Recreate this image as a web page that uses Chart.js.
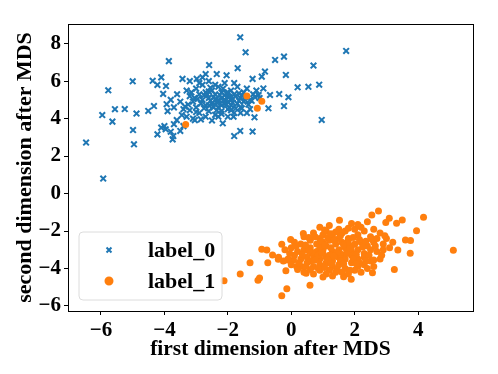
<!DOCTYPE html>
<html>
<head>
<meta charset="utf-8">
<script src="https://cdn.jsdelivr.net/npm/chart.js@4.4.1/dist/chart.umd.min.js"></script>
<style>
  html, body { margin: 0; padding: 0; background: #fff; }
  #wrap { width: 498px; height: 374px; }
</style>
</head>
<body>
<div id="wrap"><canvas id="mds"></canvas></div>
<script>
const seriesNames = ["label_0", "label_1"];
const seriesColors = ["#1f77b4", "#ff7f0e"];
const xTicks = [-6, -4, -2, 0, 2, 4];
const yTicks = [-6, -4, -2, 0, 2, 4, 6, 8];
const xLabel = "first dimension after MDS";
const yLabel = "second dimension after MDS";

// blue crosses (outliers first, then the dense core)
const label0Points = [
  [-6.47, 2.72], [-5.93, 0.80], [-5.96, 4.19], [-5.77, 5.51], [-5.64, 3.84],
  [-5.56, 4.50], [-5.25, 4.51], [-5.00, 5.99], [-4.99, 3.39], [-4.96, 2.63],
  [-4.88, 4.27], [-4.51, 4.41], [-4.37, 6.02], [-4.22, 5.80], [-4.10, 6.20],
  [-4.22, 3.16], [-4.33, 4.67], [-4.10, 3.52], [-4.04, 5.32], [-3.95, 5.74],
  [-3.86, 7.07], [-3.93, 4.77], [-3.74, 2.89], [-3.72, 3.07], [-3.96, 3.43],
  [-3.61, 3.92], [-3.43, 6.12], [-3.50, 3.34], [-3.45, 4.19], [-3.35, 4.64],
  [-1.61, 8.34], [-1.44, 7.54], [1.73, 7.61], [-0.51, 7.13], [-0.23, 7.31],
  [0.70, 6.83], [-1.69, 6.69], [-2.59, 6.86], [-0.17, 6.33], [0.88, 5.81],
  [0.54, 5.70], [0.20, 5.67], [0.96, 3.93], [-0.09, 5.14], [-0.23, 4.67],
  [-0.38, 5.31], [-0.72, 4.55], [-0.83, 6.51], [-0.93, 6.24], [-1.22, 6.12],
  [-1.16, 4.07], [-1.22, 3.31], [-1.61, 3.34], [-1.80, 3.07], [-2.16, 3.75],
  [-2.04, 6.31], [-2.35, 6.38], [-2.70, 6.38], [-2.98, 6.12], [-3.04, 3.92],
  [-2.85, 3.96], [-1.82, 4.10], [-1.56, 4.55], [-1.45, 4.99], [-1.03, 5.26],
  [-0.67, 5.26], [-0.88, 5.61],
  [-3.3, 5.5], [-3.2, 5.2], [-3.1, 4.9], [-3.0, 5.6], [-3.0, 4.6], [-2.9, 5.3],
  [-2.9, 4.3], [-2.8, 5.0], [-2.8, 5.8], [-2.7, 4.7], [-2.7, 5.4], [-2.6, 4.4],
  [-2.6, 5.1], [-2.6, 6.0], [-2.5, 4.8], [-2.5, 5.5], [-2.4, 4.2], [-2.4, 5.0],
  [-2.4, 5.3], [-2.3, 4.6], [-2.3, 5.7], [-2.3, 4.9], [-2.2, 5.1], [-2.2, 4.4],
  [-2.2, 5.4], [-2.1, 4.8], [-2.1, 5.0], [-2.1, 5.9], [-2.0, 4.5], [-2.0, 5.2],
  [-2.0, 4.9], [-1.9, 5.5], [-1.9, 4.7], [-1.9, 5.0], [-1.8, 4.3], [-1.8, 5.3],
  [-1.7, 4.8], [-1.7, 5.7], [-1.6, 5.1], [-1.6, 4.6], [-1.5, 5.4], [-1.5, 4.9],
  [-1.4, 5.6], [-1.3, 5.0], [-1.3, 4.5], [-1.2, 5.3], [-1.1, 5.5], [-1.0, 5.1],
  [-3.4, 4.5], [-3.5, 4.9], [-3.3, 4.1], [-3.6, 5.3], [-3.1, 4.0], [-2.7, 4.1],
  [-2.5, 3.9], [-2.3, 4.1], [-2.0, 4.1], [-2.4, 5.8], [-2.8, 6.2], [-3.2, 6.0],
  [-1.8, 5.9], [-1.4, 4.3], [-2.9, 5.9], [-3.7, 4.6], [-3.8, 5.0], [-3.9, 4.4],
  [-3.7, 3.7], [-3.4, 3.6], [-3.8, 3.3], [-4.0, 3.6], [-2.6, 4.7], [-2.2, 4.7],
  [-2.05, 5.35], [-1.95, 4.6], [-2.45, 5.15], [-2.15, 5.6], [-1.65, 4.95],
  [-2.75, 5.25], [-3.05, 5.1], [-1.75, 5.2], [-2.35, 4.45], [-2.55, 5.65],
  [-1.85, 4.85], [-1.55, 5.25],
  [-2.25, 5.25], [-2.15, 4.95], [-2.05, 4.75], [-1.95, 5.15], [-2.35, 4.85],
  [-2.45, 4.6], [-2.55, 4.95], [-2.65, 5.3], [-2.85, 4.8], [-2.95, 5.05],
  [-3.15, 5.4], [-3.25, 4.75], [-1.85, 5.05], [-1.75, 4.55], [-1.65, 5.35],
  [-1.45, 5.15], [-1.35, 4.75], [-1.25, 4.95], [-2.1, 5.25], [-2.3, 5.0],
  [-2.0, 5.4], [-2.4, 4.75], [-1.9, 4.45], [-2.2, 4.25], [-2.6, 5.45],
  [-2.75, 4.55], [-3.0, 4.35], [-3.2, 4.45], [-1.6, 4.3], [-1.15, 5.15]
];

// orange dots
const label1Points = [
  [-1.40, 5.20], [-0.93, 4.92], [-1.07, 4.55], [-3.33, 3.68],
  [2.75, -0.93], [2.54, -1.14], [3.09, -1.32], [4.17, -1.27], [3.50, -1.41],
  [3.32, -1.59], [2.98, -1.55], [1.52, -1.43], [3.95, -1.98], [3.60, -2.48],
  [3.76, -2.51], [3.75, -3.19], [3.36, -3.01], [5.11, -3.03], [3.25, -4.05],
  [2.56, -4.23], [1.89, -4.58], [1.65, -4.44], [0.59, -4.90], [-0.14, -5.08],
  [-0.30, -5.45], [-1.00, -4.51], [-1.05, -4.63], [-1.61, -4.29], [-2.12, -4.65],
  [-1.30, -3.69], [-0.93, -2.98], [-0.77, -3.01], [-0.74, -3.69], [-0.59, -3.28],
  [-0.41, -3.51], [-0.30, -2.71], [-0.17, -4.12], [-0.12, -3.55], [-0.02, -2.45],
  [0.07, -3.55], [0.17, -3.90], [0.38, -2.13], [0.47, -4.26],
  [0.9, -1.8], [1.2, -1.7], [1.5, -1.9], [1.9, -1.6], [2.2, -1.8], [2.4, -1.5],
  [1.7, -2.0], [2.6, -1.9],
  [0.4, -2.3], [0.7, -2.1], [1.0, -2.2], [1.3, -2.3], [1.6, -2.1], [1.8, -2.4],
  [2.1, -2.2], [2.3, -2.0], [2.5, -2.3], [2.8, -2.1], [3.0, -2.4], [1.1, -2.0],
  [2.0, -1.9],
  [0.1, -2.6], [0.3, -2.7], [0.6, -2.5], [0.8, -2.7], [1.0, -2.6], [1.2, -2.5],
  [1.4, -2.7], [1.6, -2.6], [1.8, -2.5], [2.0, -2.7], [2.2, -2.6], [2.4, -2.8],
  [2.6, -2.6], [2.9, -2.7], [3.2, -2.6], [1.5, -2.4], [0.9, -2.4], [1.9, -2.8],
  [-0.2, -3.0], [0.0, -2.9], [0.2, -3.1], [0.4, -3.0], [0.6, -2.9], [0.8, -3.1],
  [1.0, -3.0], [1.1, -2.8], [1.3, -3.1], [1.5, -3.0], [1.7, -2.9], [1.9, -3.1],
  [2.1, -3.0], [2.3, -3.2], [2.5, -3.0], [2.7, -3.1], [2.9, -3.0], [1.2, -3.3],
  [0.9, -2.85], [1.6, -3.25],
  [-0.4, -3.4], [-0.1, -3.5], [0.1, -3.3], [0.3, -3.5], [0.5, -3.4], [0.7, -3.3],
  [0.9, -3.5], [1.1, -3.4], [1.3, -3.6], [1.5, -3.4], [1.7, -3.5], [1.9, -3.3],
  [2.1, -3.5], [2.3, -3.4], [2.5, -3.6], [2.8, -3.5], [1.0, -3.2], [1.4, -3.25],
  [0.6, -3.6],
  [0.0, -3.8], [0.3, -3.9], [0.5, -3.7], [0.7, -3.9], [0.9, -3.8], [1.1, -3.7],
  [1.3, -3.9], [1.5, -3.8], [1.7, -4.0], [1.9, -3.7], [2.1, -3.9], [2.3, -3.8],
  [2.6, -3.9], [1.2, -4.1],
  [0.4, -4.2], [0.7, -4.3], [0.9, -4.1], [1.1, -4.3], [1.3, -4.4], [1.6, -4.2],
  [1.8, -4.3], [2.0, -4.1], [2.2, -4.2], [0.6, -4.05],
  [0.75, -2.3], [0.95, -2.55], [1.15, -2.35], [1.35, -2.5], [1.55, -2.25],
  [1.75, -2.65], [1.95, -2.35], [2.15, -2.45], [2.35, -2.55], [2.55, -2.45],
  [0.45, -2.75], [0.65, -3.15], [0.85, -3.3], [1.05, -2.75], [1.25, -2.9],
  [1.45, -3.15], [1.65, -2.75], [1.85, -2.95], [2.05, -3.25], [2.25, -2.85],
  [2.45, -3.3], [2.65, -2.8], [0.35, -3.25], [0.55, -3.05], [0.75, -3.55],
  [0.95, -3.15], [1.15, -3.55], [1.35, -3.35], [1.55, -3.6], [1.75, -3.2],
  [1.95, -3.5], [2.15, -3.7], [2.35, -3.6], [0.25, -3.7], [0.45, -3.9],
  [0.85, -4.0], [1.05, -3.95], [1.25, -3.75], [1.45, -4.05], [1.65, -3.75],
  [1.85, -4.1], [2.05, -3.75], [0.15, -2.8], [-0.05, -3.2], [-0.25, -3.6],
  [1.05, -1.95], [1.4, -2.05], [1.8, -1.85], [2.1, -1.65], [2.7, -2.4],
  [0.55, -2.35], [1.25, -2.15], [2.85, -3.3], [2.6, -3.55], [0.2, -4.05],
  [1.4, -4.2], [1.0, -4.45], [2.4, -4.0], [3.1, -2.9], [2.95, -2.25]
];

const toXY = (p) => ({ x: p[0], y: p[1] });
const tickFmt = (v) => String(v).replace("-", "\u2212");
const serif = "'Liberation Serif', 'Times New Roman', serif";

// matplotlib-like frame + legend inside the axes
const framePlugin = {
  id: "frame",
  afterDraw(chart) {
    const { ctx, chartArea: a } = chart;
    ctx.save();
    ctx.strokeStyle = "#000";
    ctx.lineWidth = 1;
    ctx.strokeRect(a.left + 0.5, a.top + 0.5, a.right - a.left, a.bottom - a.top);

    // legend box
    const bx = a.left + 11, by = a.top + 208, bw = 143, bh = 68;
    ctx.beginPath();
    ctx.roundRect(bx, by, bw, bh, 4);
    ctx.fillStyle = "rgba(255,255,255,0.8)";
    ctx.fill();
    ctx.strokeStyle = "#dcdcdc";
    ctx.stroke();

    const styles = ["crossRot", "circle"];
    const radii = [3.5, 3.5];
    ctx.font = "bold 22px " + serif;
    ctx.textBaseline = "middle";
    seriesNames.forEach((name, i) => {
      const yy = by + 18 + i * 31;
      ctx.fillStyle = seriesColors[i];
      ctx.strokeStyle = seriesColors[i];
      ctx.lineWidth = 2;
      Chart.helpers.drawPoint(ctx, { pointStyle: styles[i], radius: radii[i], rotation: 0, borderWidth: 2 }, bx + 30, yy);
      ctx.fillStyle = "#000";
      ctx.fillText(name, bx + 69, yy + 1);
    });
    ctx.restore();
  }
};

new Chart(document.getElementById("mds"), {
  type: "scatter",
  plugins: [framePlugin],
  data: {
    datasets: [
      {
        label: seriesNames[0],
        data: label0Points.map(toXY),
        pointStyle: "crossRot",
        pointRadius: 4,
        borderWidth: 2,
        borderColor: seriesColors[0],
        backgroundColor: seriesColors[0],
        order: 1
      },
      {
        label: seriesNames[1],
        data: label1Points.map(toXY),
        pointStyle: "circle",
        pointRadius: 3.5,
        borderWidth: 0,
        borderColor: seriesColors[1],
        backgroundColor: seriesColors[1],
        order: 0
      }
    ]
  },
  options: {
    responsive: true,
    maintainAspectRatio: false,
    animation: false,
    layout: { padding: { left: 0, right: 25, top: 24, bottom: 0 } },
    plugins: {
      legend: { display: false },
      tooltip: { enabled: false }
    },
    scales: {
      x: {
        type: "linear",
        min: -7.04,
        max: 5.73,
        afterBuildTicks: (s) => { s.ticks = xTicks.map((v) => ({ value: v })); },
        afterFit: (s) => { s.height = 63; },
        border: { display: true, color: "#000" },
        grid: { drawOnChartArea: false, drawTicks: true, tickLength: 4, color: "#000" },
        ticks: {
          color: "#000",
          padding: 3,
          maxRotation: 0,
          font: { family: serif, size: 21, weight: "bold" },
          callback: (v) => tickFmt(v)
        },
        title: {
          display: true,
          text: xLabel,
          color: "#000",
          padding: { top: 0, bottom: 12 },
          font: { family: serif, size: 21.5, weight: "bold" }
        }
      },
      y: {
        type: "linear",
        min: -6.27,
        max: 9.05,
        afterBuildTicks: (s) => { s.ticks = yTicks.map((v) => ({ value: v })); },
        afterFit: (s) => { s.width = 68; },
        border: { display: true, color: "#000" },
        grid: { drawOnChartArea: false, drawTicks: true, tickLength: 4, color: "#000" },
        ticks: {
          color: "#000",
          padding: 3,
          font: { family: serif, size: 21, weight: "bold" },
          callback: (v) => tickFmt(v)
        },
        title: {
          display: true,
          text: yLabel,
          color: "#000",
          padding: { top: 12, bottom: 0 },
          font: { family: serif, size: 22, weight: "bold" }
        }
      }
    }
  }
});
</script>
</body>
</html>
